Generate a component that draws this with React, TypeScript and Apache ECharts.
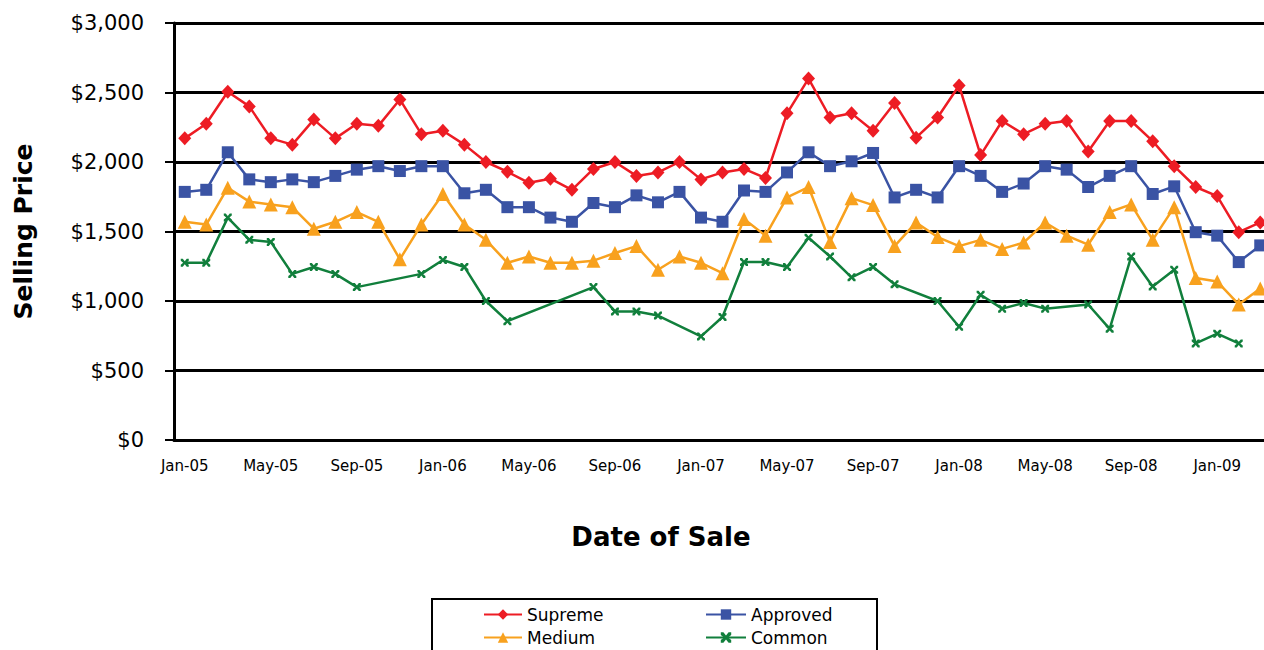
import React, { useEffect, useRef } from "react";
import * as echarts from "echarts";

const categories = [
  "Jan-05","Feb-05","Mar-05","Apr-05","May-05","Jun-05","Jul-05","Aug-05","Sep-05","Oct-05","Nov-05","Dec-05",
  "Jan-06","Feb-06","Mar-06","Apr-06","May-06","Jun-06","Jul-06","Aug-06","Sep-06","Oct-06","Nov-06","Dec-06",
  "Jan-07","Feb-07","Mar-07","Apr-07","May-07","Jun-07","Jul-07","Aug-07","Sep-07","Oct-07","Nov-07","Dec-07",
  "Jan-08","Feb-08","Mar-08","Apr-08","May-08","Jun-08","Jul-08","Aug-08","Sep-08","Oct-08","Nov-08","Dec-08",
  "Jan-09","Feb-09","Mar-09",
];

const supreme = [
  2170, 2275, 2505, 2400, 2170, 2125, 2305, 2170, 2275, 2260, 2450, 2200,
  2225, 2125, 2000, 1930, 1850, 1880, 1800, 1950, 2000, 1900, 1925, 2000,
  1875, 1925, 1950, 1885, 2350, 2600, 2320, 2350, 2225, 2425, 2175, 2320,
  2550, 2050, 2295, 2200, 2275, 2295, 2075, 2295, 2295, 2150, 1970, 1820,
  1755, 1495, 1565,
];

const approved = [
  1785, 1800, 2070, 1875, 1855, 1875, 1855, 1900, 1945, 1970, 1935, 1970,
  1970, 1775, 1800, 1675, 1675, 1600, 1570, 1705, 1675, 1760, 1710, 1785,
  1600, 1570, 1795, 1785, 1925, 2070, 1970, 2005, 2065, 1745, 1800, 1745,
  1970, 1900, 1785, 1845, 1970, 1945, 1820, 1900, 1970, 1770, 1825, 1495,
  1470, 1280, 1400,
];

const medium = [
  1570, 1550, 1815, 1715, 1695, 1675, 1520, 1570, 1640, 1570, 1300, 1550,
  1770, 1550, 1440, 1275, 1320, 1275, 1275, 1290, 1345, 1395, 1225, 1320,
  1275, 1200, 1590, 1470, 1745, 1820, 1425, 1740, 1690, 1395, 1565, 1460,
  1395, 1440, 1375, 1420, 1565, 1470, 1405, 1640, 1695, 1440, 1675, 1165,
  1140, 975, 1090,
];

const common = [
  1275, 1275, 1600, 1440, 1425, 1195, 1245, 1195, 1100, null, null, 1195,
  1295, 1245, 1000, 855, null, null, null, 1100, 925, 925, 895, null,
  745, 885, 1280, 1280, 1245, 1455, 1320, 1170, 1245, 1120, null, 1000,
  815, 1045, 945, 985, 945, null, 975, 800, 1320, 1105, 1225, 695,
  765, 695, null,
];

const yTicks = { min: 0, max: 3000, interval: 500 };

const FONT = "'Comic Sans MS', 'DejaVu Sans', sans-serif";
const RED = "#ED1C24";
const BLUE = "#3A53A4";
const ORANGE = "#F8A11E";
const GREEN = "#117F3C";

const starPath =
  "path://M0,0 L2.5,0 L5,3 L7.5,0 L10,0 L10,2.5 L7,5 L10,7.5 L10,10 L7.5,10 L5,7 L2.5,10 L0,10 L0,7.5 L3,5 L0,2.5 Z";

export default function App() {
  const ref = useRef<HTMLDivElement>(null);

  useEffect(() => {
    if (!ref.current) return;
    const chart = echarts.init(ref.current, null, { renderer: "svg" });
    const mk = (name: string, data: (number | null)[], color: string, symbol: string, size: number | number[]) => ({
      name,
      type: "line",
      data,
      symbol,
      symbolSize: size,
      connectNulls: true,
      lineStyle: { color, width: 2.5 },
      itemStyle: { color },
      emphasis: { disabled: true },
    });
    chart.setOption({
      animation: false,
      textStyle: { fontFamily: FONT },
      grid: { left: 174, top: 23, right: 0, bottom: 210, containLabel: false },
      xAxis: {
        type: "category",
        data: categories,
        boundaryGap: true,
        axisLine: { lineStyle: { color: "#000", width: 3 } },
        axisTick: { interval: 3, length: 7, lineStyle: { color: "#000", width: 2 } },
        axisLabel: { interval: 3, fontSize: 15, color: "#000", margin: 18, fontFamily: FONT },
        splitLine: { show: false },
      },
      yAxis: {
        type: "value",
        min: yTicks.min,
        max: yTicks.max,
        interval: yTicks.interval,
        axisLine: { show: true, lineStyle: { color: "#000", width: 3 } },
        axisTick: { show: true, length: 9, lineStyle: { color: "#000", width: 2 } },
        axisLabel: {
          fontSize: 21,
          color: "#000",
          margin: 30,
          fontFamily: FONT,
          formatter: (v: number) => "$" + v.toLocaleString("en-US"),
        },
        splitLine: { show: true, lineStyle: { color: "#000", width: 3 } },
        name: "Selling Price",
        nameLocation: "middle",
        nameGap: 138,
        nameRotate: 90,
        nameTextStyle: { fontSize: 25, fontWeight: "bold", color: "#000", fontFamily: FONT },
      },
      legend: [
        {
          data: ["Supreme", "Medium"],
          orient: "vertical",
          left: 483,
          top: 606,
          padding: 0,
          itemGap: 6,
          itemWidth: 38,
          itemHeight: 13,
          textStyle: { fontSize: 17, color: "#000", fontFamily: FONT },
        },
        {
          data: ["Approved", "Common"],
          orient: "vertical",
          left: 705,
          top: 606,
          padding: 0,
          itemGap: 6,
          itemWidth: 40,
          itemHeight: 13,
          textStyle: { fontSize: 17, color: "#000", fontFamily: FONT },
        },
      ],
      graphic: [
        {
          type: "rect",
          shape: { x: 432, y: 599, width: 445, height: 60 },
          style: { fill: "none", stroke: "#000", lineWidth: 2 },
          silent: true,
        },
        {
          type: "text",
          x: 661,
          y: 537,
          style: {
            text: "Date of Sale",
            font: `bold 26px ${FONT}`,
            fill: "#000",
            align: "center",
            verticalAlign: "middle",
          },
        },
      ],
      series: [
        mk("Supreme", supreme, RED, "diamond", [13, 14]),
        mk("Approved", approved, BLUE, "rect", 12),
        mk("Medium", medium, ORANGE, "triangle", 14),
        mk("Common", common, GREEN, starPath, 8),
      ],
    });
    return () => chart.dispose();
  }, []);

  return (
    <div
      style={{ position: "absolute", left: 0, top: 0, width: 1264, height: 650, overflow: "hidden", background: "#fff" }}
    >
      <div ref={ref} style={{ width: 1271, height: 650 }} />
    </div>
  );
}
